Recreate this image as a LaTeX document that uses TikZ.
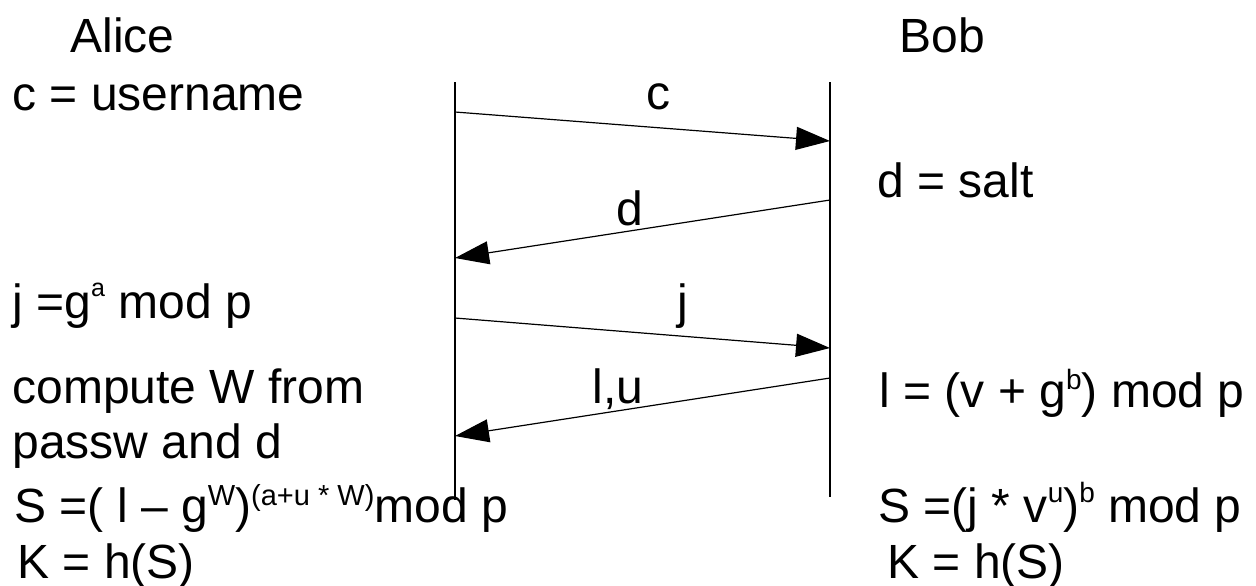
\documentclass[tikz,border=0pt]{standalone}
\usepackage{fontspec}
\setmainfont{Liberation Sans}
\usetikzlibrary{arrows.meta}
\newcommand\spx[3]{\raisebox{#1}{\fontsize{#2}{#2}\selectfont #3}}
\begin{document}
\begin{tikzpicture}[x=0.5pt,y=-0.5pt,
  txt/.style={anchor=base west, inner sep=0pt, font=\fontsize{24}{28}\selectfont},
  lbl/.style={anchor=base, inner sep=0pt, font=\fontsize{24}{28}\selectfont},
  life/.style={line width=0.6pt},
  msg/.style={line width=0.6pt, -{Triangle[length=17pt,width=11.5pt]}}]
\useasboundingbox (0,0) rectangle (1256,585);
% lifelines
\coordinate (a0) at (455,82);
\coordinate (a1) at (455,500);
\coordinate (b0) at (830,82);
\coordinate (b1) at (830,497);
\draw[life] (a0) -- (a1);
\draw[life] (b0) -- (b1);
% message end points
\coordinate (m1s) at (455,112); \coordinate (m1e) at (830,141);
\coordinate (m2s) at (830,200); \coordinate (m2e) at (455,258);
\coordinate (m3s) at (455,318); \coordinate (m3e) at (830,348);
\coordinate (m4s) at (830,378); \coordinate (m4e) at (455,436);
\draw[msg] (m1s) -- (m1e);
\draw[msg] (m2s) -- (m2e);
\draw[msg] (m3s) -- (m3e);
\draw[msg] (m4s) -- (m4e);
\node[lbl] (lc) at (658,109) {c};
\node[lbl] (ld) at (630,225) {d};
\node[lbl] (lj) at (683,318) {j};
\node[lbl] (llu) at (618,403) {l,u};
% Alice side
\node[txt] (alice) at (70,52) {Alice};
\node[txt] (a1t) at (12,110) {c = username};
\node[txt] (a2t) at (12,318) {j =g\spx{11pt}{12.5}{a} mod p};
\node[txt] (a3t) at (12,403) {compute W from};
\node[txt] (a4t) at (12,458) {passw and d};
\node[txt] (a5t) at (14,522) {S =( l – g\spx{8.5pt}{14.5}{W})\spx{8.5pt}{14.5}{(a+u * W)}mod p};
\node[txt] (a6t) at (17,578) {K = h(S)};
% Bob side
\node[txt] (bob) at (899,52) {Bob};
\node[txt] (b1t) at (877,197) {d = salt};
\node[txt] (b2t) at (879,407) {l = (v + g\spx{9pt}{14}{b}) mod p};
\node[txt] (b3t) at (878,522) {S =(j * v\spx{10pt}{14}{u})\spx{10pt}{14}{b} mod p};
\node[txt] (b4t) at (887,578) {K = h(S)};
\end{tikzpicture}
\end{document}
